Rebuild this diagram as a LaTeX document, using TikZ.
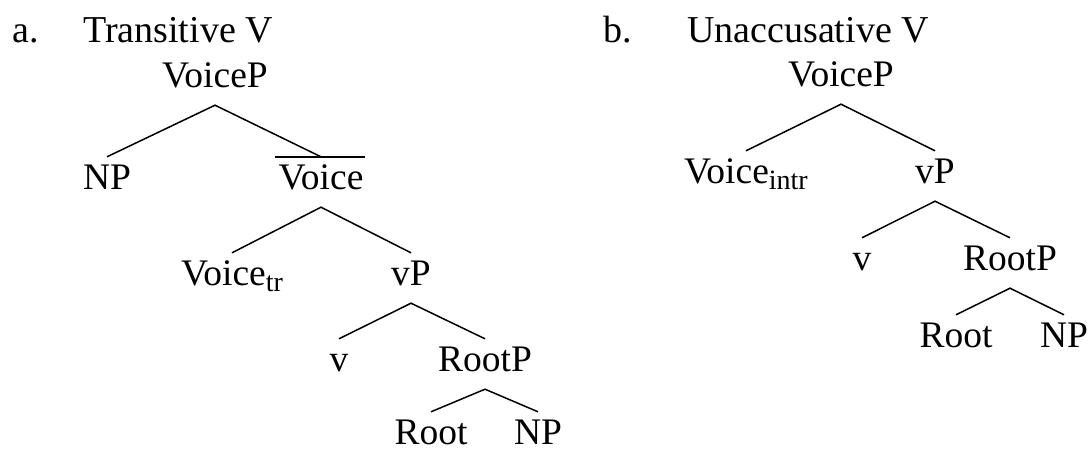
\documentclass[tikz,border=0pt]{standalone}
\usepackage{fontspec}
\setmainfont{Liberation Serif}
\newcommand{\subtxt}[1]{\raisebox{-6pt}{\fontsize{28}{28}\selectfont #1}}
\begin{document}
\begin{tikzpicture}[x=1pt,y=-1pt,
  lab/.style={font=\fontsize{37.5}{40}\selectfont, inner xsep=0pt, inner ysep=10pt,
              text height=22pt, text depth=8pt, anchor=base},
  leaf/.style={lab, inner ysep=0pt, text height=32pt, text depth=0pt},
  ttl/.style={font=\fontsize{38}{40}\selectfont, inner sep=0pt, anchor=base west},
  br/.style={line width=1.5pt, black}]
\useasboundingbox (0,0) rectangle (1091,452);
% titles
\node[ttl] (ta) at (12,43) {a.};
\node[ttl] (tan) at (83,43) {Transitive V};
\node[ttl] (tb) at (603,43) {b.};
\node[ttl] (tbn) at (687,43) {Unaccusative V};
% tree a
\node[lab] (aVP) at (215,87) {VoiceP};
\node[lab] (aNP) at (107,189) {NP};
\node[lab] (aVbar) at (321,189) {Voice};
\node[lab] (aVtr) at (232,285) {Voice\subtxt{tr}};
\node[lab] (avP) at (411,285) {vP};
\node[lab] (av) at (339,371) {v};
\node[lab] (aRootP) at (485,371) {RootP};
\node[leaf] (aRoot) at (431,444) {Root};
\node[leaf] (aNPb) at (538,444) {NP};
\draw[br] ([xshift=-3pt]aVbar.north west) -- ([xshift=1pt]aVbar.north east);
\draw[br] (aNP.north) -- (aVP.south) -- (aVbar.north);
\draw[br] (aVtr.north) -- (aVbar.south) -- (avP.north);
\draw[br] (av.north) -- (avP.south) -- (aRootP.north);
\draw[br] (aRoot.north) -- (aRootP.south) -- (aNPb.north);
% tree b
\node[lab] (bVP) at (841,86) {VoiceP};
\node[lab] (bVi) at (746,183) {Voice\subtxt{intr}};
\node[lab] (bvP) at (935,183) {vP};
\node[lab] (bv) at (862,270) {v};
\node[lab] (bRootP) at (1010,270) {RootP};
\node[lab] (bRoot) at (956,347) {Root};
\node[lab] (bNP) at (1064,347) {NP};
\draw[br] (bVi.north) -- (bVP.south) -- (bvP.north);
\draw[br] (bv.north) -- (bvP.south) -- (bRootP.north);
\draw[br] (bRoot.north) -- (bRootP.south) -- (bNP.north);
\end{tikzpicture}
\end{document}
